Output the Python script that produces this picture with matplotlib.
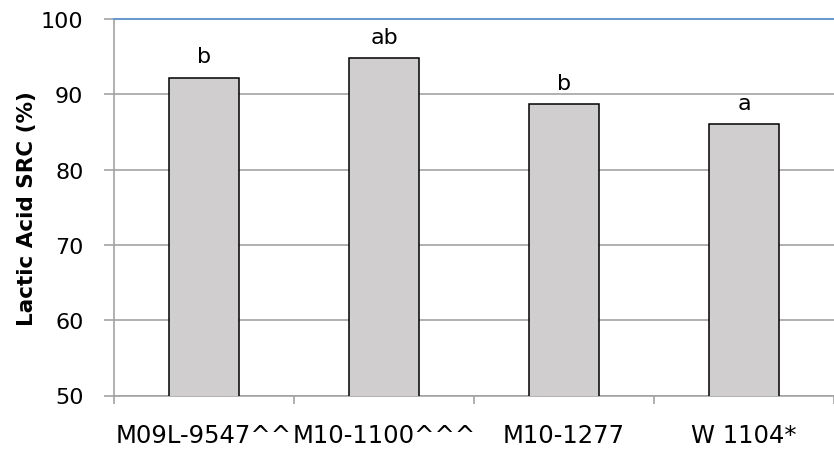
import matplotlib.pyplot as plt

lines = ["M09L-9547^^", "M10-1100^^^", "M10-1277", "W 1104*"]
src = [92.2, 94.8, 88.7, 86.0]
groups = ["b", "ab", "b", "a"]

fig = plt.figure(figsize=(8.34, 4.52), dpi=100)
ax = fig.add_axes([114/834, 55.5/452, 720/834, 376.5/452])

x = range(len(lines))
ax.bar(x, src, width=0.39, color="#d0cece", edgecolor="black", linewidth=1.1, zorder=3)

# significance letters over each bar
for i, (v, g) in enumerate(zip(src, groups)):
    ax.annotate(g, (i, v), xytext=(0, 11), textcoords="offset points",
                ha="center", va="baseline", fontsize=16)

ax.set_ylim(50, 100)
ax.set_xlim(-0.5, 3.5)
ax.set_yticks([50, 60, 70, 80, 90, 100])
ax.yaxis.grid(True, color="#a3a3a3", linewidth=1.2, zorder=0)

# category labels centred, tick marks on the category boundaries
ax.set_xticks(list(x))
ax.set_xticklabels(lines, fontsize=17.5)
ax.tick_params(axis="x", length=0, pad=20)
ax.set_xticks([-0.5, 0.5, 1.5, 2.5, 3.5], minor=True)
ax.tick_params(axis="x", which="minor", length=6, color="#a3a3a3", width=1.2)
ax.tick_params(axis="y", length=7, color="#a3a3a3", width=1.2, labelsize=16, pad=15)

ax.set_ylabel("Lactic Acid SRC (%)", fontsize=15.5, fontweight="bold")
ax.yaxis.set_label_coords(-0.107, 0.5)

for s in ["left", "bottom"]:
    ax.spines[s].set_color("#a3a3a3")
    ax.spines[s].set_linewidth(1.2)
ax.spines["right"].set_visible(False)
ax.spines["top"].set_color("#6a9bcf")
ax.spines["top"].set_linewidth(1.5)

plt.savefig("out.png", dpi=100)
